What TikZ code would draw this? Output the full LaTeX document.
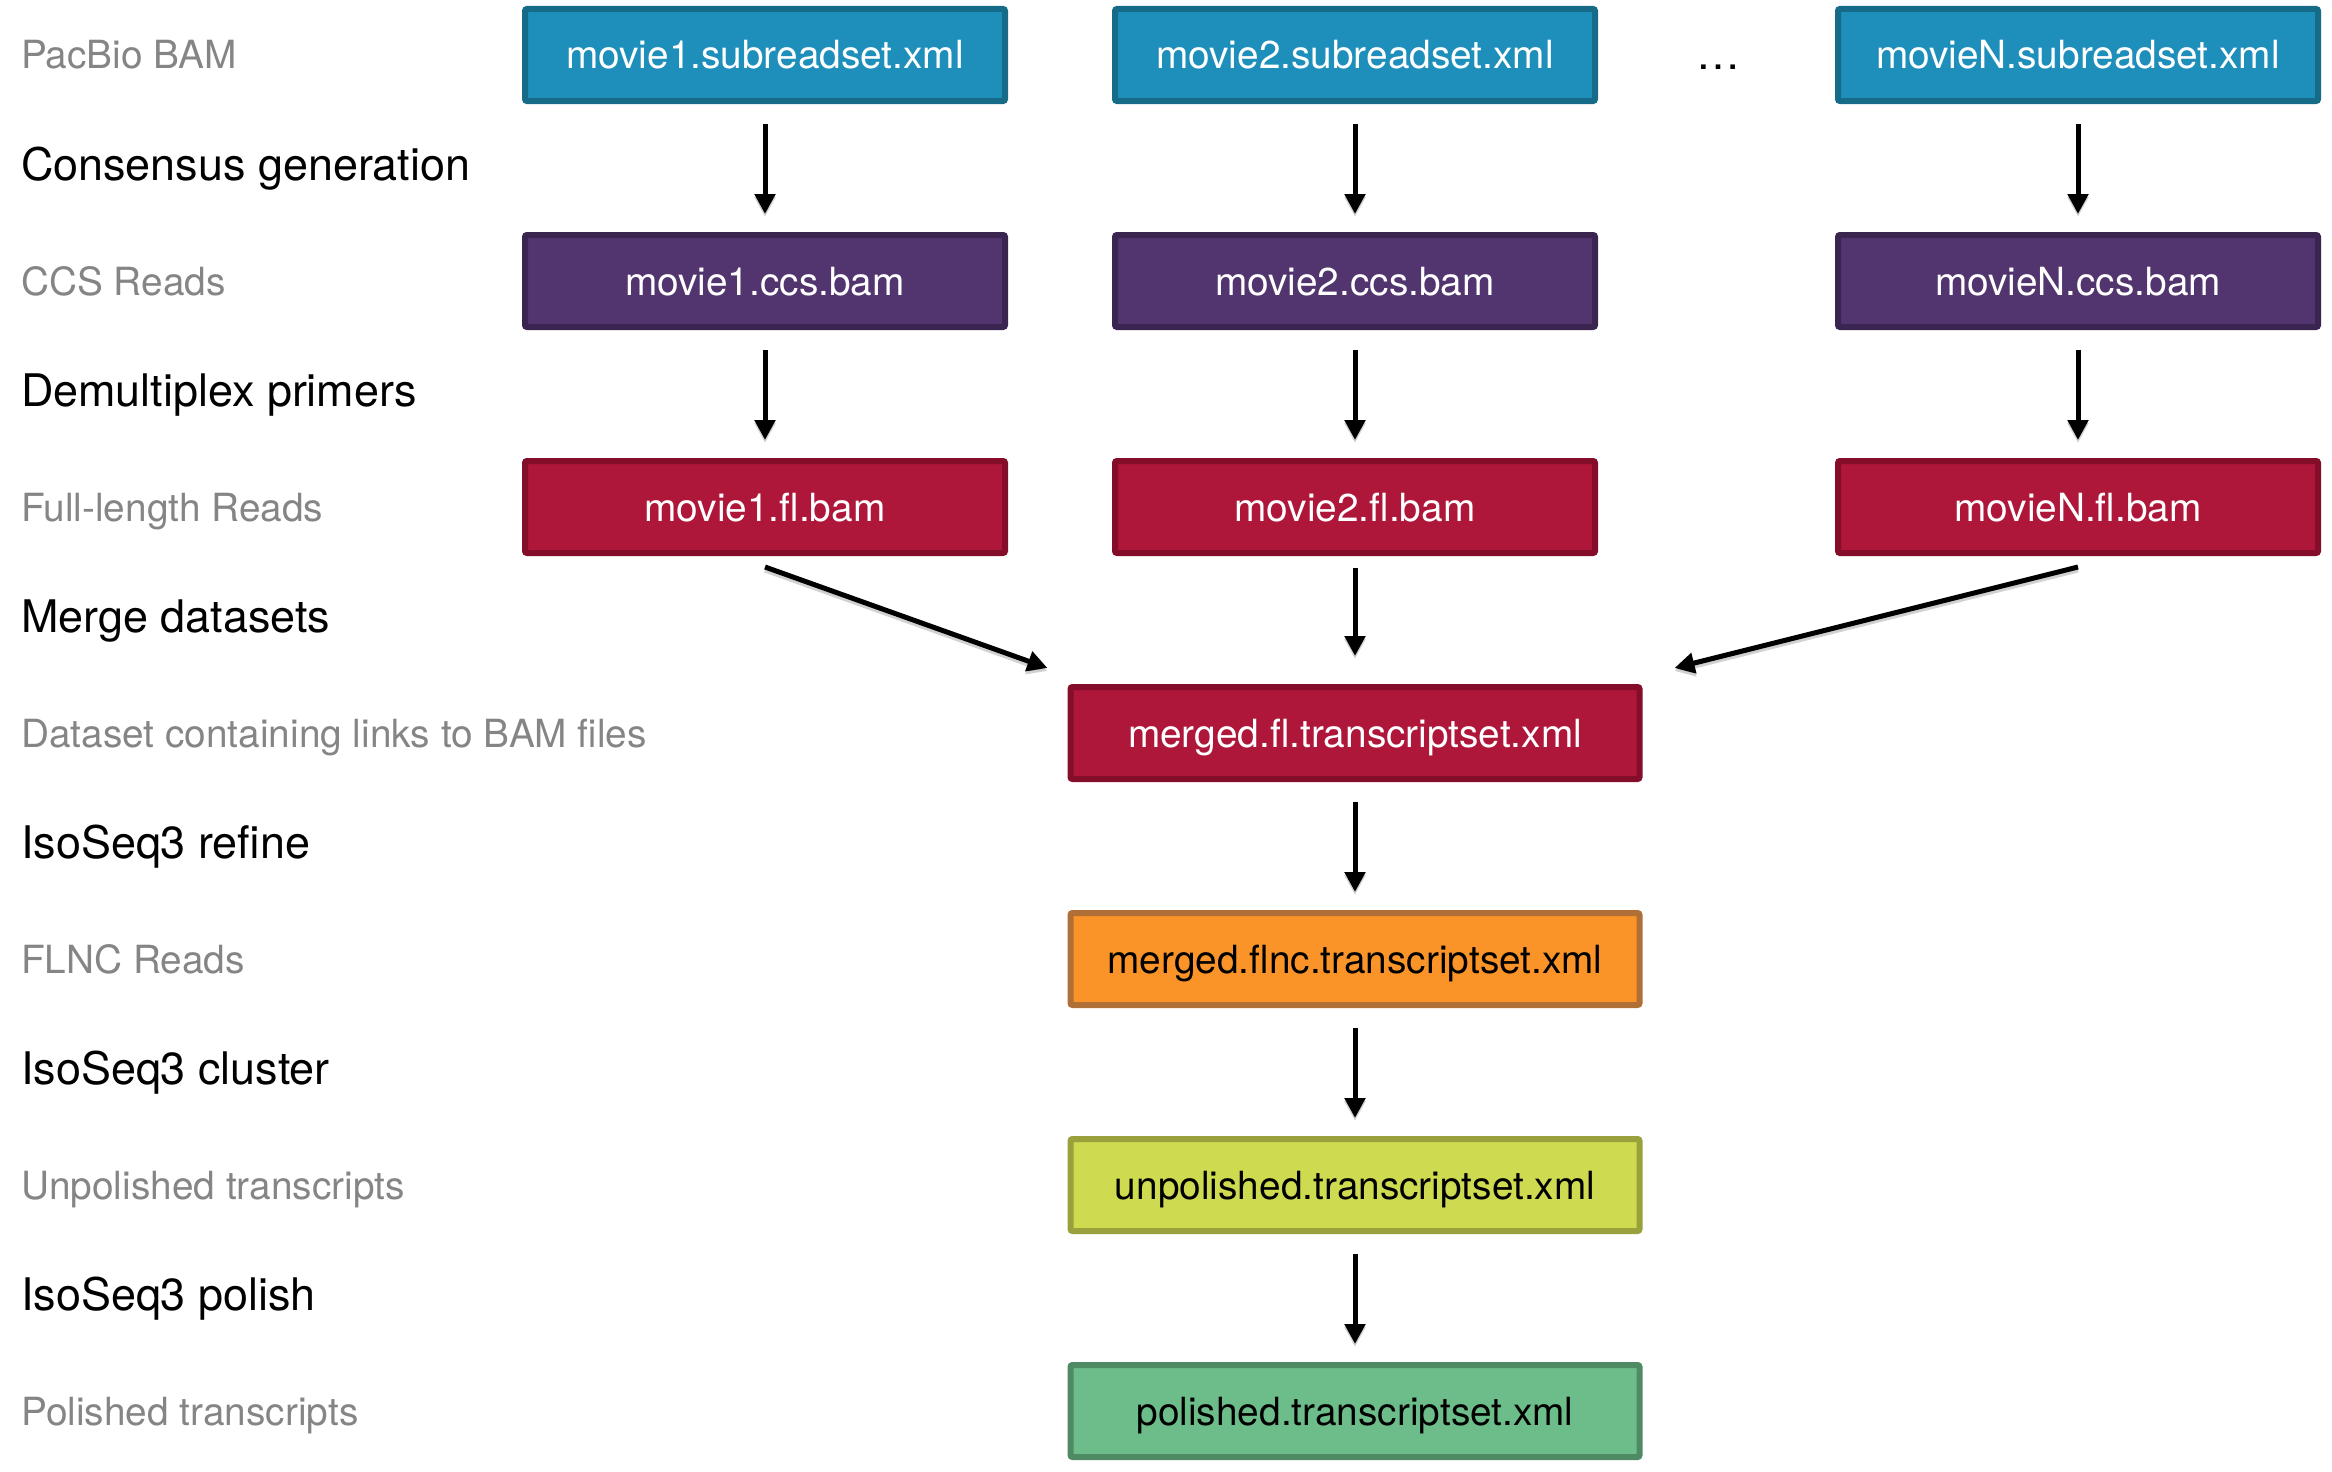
\documentclass[tikz,border=0pt]{standalone}
\usepackage{fontspec}
\setmainfont{TeX Gyre Heros}
\usetikzlibrary{arrows.meta}
\definecolor{blueF}{HTML}{1E8FBB}
\definecolor{blueD}{HTML}{156B88}
\definecolor{purpF}{HTML}{52356F}
\definecolor{purpD}{HTML}{3A2450}
\definecolor{redF}{HTML}{AE163A}
\definecolor{redD}{HTML}{840E2A}
\definecolor{orF}{HTML}{FA9429}
\definecolor{orD}{HTML}{B06F37}
\definecolor{ylF}{HTML}{CEDA4F}
\definecolor{ylD}{HTML}{98A13B}
\definecolor{grF}{HTML}{6CBD8A}
\definecolor{grD}{HTML}{4E8A63}
\definecolor{labgray}{HTML}{858585}
\tikzset{
  box/.style={draw, line width=6pt, rounded corners=2pt, minimum width=480pt,
    minimum height=92pt, inner sep=0pt, text height=28pt, text depth=0pt,
    font=\fontsize{38.8}{46}\selectfont},
  wide/.style={box, minimum width=569pt},
  bluebox/.style={box, fill=blueF, draw=blueD, text=white},
  purpbox/.style={box, fill=purpF, draw=purpD, text=white},
  redbox/.style={box, fill=redF, draw=redD, text=white},
  orbox/.style={wide, fill=orF, draw=orD, text=black},
  ylbox/.style={wide, fill=ylF, draw=ylD, text=black},
  grbox/.style={wide, fill=grF, draw=grD, text=black},
  graylab/.style={anchor=base west, text=labgray, inner sep=0pt,
    font=\fontsize{38.8}{46}\selectfont},
  steplab/.style={anchor=base west, text=black, inner sep=0pt,
    font=\fontsize{44.9}{54}\selectfont},
  arr/.style={line width=5pt, -{Triangle[length=20pt,width=20pt]}},
  arrshadow/.style={arr, draw=black, opacity=0.18, transform canvas={yshift=-3pt}},
}
\begin{document}
\begin{tikzpicture}[x=1pt,y=-1pt]
\useasboundingbox (0,0) rectangle (2332,1472);
% left labels
\node[graylab] (lPac) at (21,69) {PacBio BAM};
\node[steplab] (lCons) at (21,180.5) {Consensus generation};
\node[graylab] (lCCS) at (21,295) {CCS Reads};
\node[steplab] (lDemux) at (21,406.5) {Demultiplex primers};
\node[graylab] (lFL) at (21,521) {Full-length Reads};
\node[steplab] (lMerge) at (21,632.5) {Merge datasets};
\node[graylab] (lData) at (21,747) {Dataset containing links to BAM files};
\node[steplab] (lRefine) at (21,858.5) {IsoSeq3 refine};
\node[graylab] (lFLNC) at (21,973) {FLNC Reads};
\node[steplab] (lCluster) at (21,1084.5) {IsoSeq3 cluster};
\node[graylab] (lUnp) at (21,1199) {Unpolished transcripts};
\node[steplab] (lPolish) at (21,1310.5) {IsoSeq3 polish};
\node[graylab] (lPol) at (21,1425) {Polished transcripts};
% boxes
\node[bluebox] (s1) at (765,55) {movie1.subreadset.xml};
\node[bluebox] (s2) at (1355,55) {movie2.subreadset.xml};
\node[bluebox] (sN) at (2078,55) {movieN.subreadset.xml};
\node[anchor=base, inner sep=0pt, font=\fontsize{44}{50}\selectfont] (dots) at (1718,70) {…};
\node[purpbox] (c1) at (765,281) {movie1.ccs.bam};
\node[purpbox] (c2) at (1355,281) {movie2.ccs.bam};
\node[purpbox] (cN) at (2078,281) {movieN.ccs.bam};
\node[redbox] (f1) at (765,507) {movie1.fl.bam};
\node[redbox] (f2) at (1355,507) {movie2.fl.bam};
\node[redbox] (fN) at (2078,507) {movieN.fl.bam};
\node[redbox, minimum width=569pt] (mg) at (1355,733) {merged.fl.transcriptset.xml};
\node[orbox] (flnc) at (1355,959) {merged.flnc.transcriptset.xml};
\node[ylbox] (unp) at (1355,1185) {unpolished.transcriptset.xml};
\node[grbox] (pol) at (1355,1411) {polished.transcriptset.xml};
% connector end points
\coordinate (d1s) at ([yshift=-11pt]f1.south);
\coordinate (d1e) at ([xshift=-20pt,yshift=16pt]mg.north west);
\coordinate (dNs) at ([yshift=-11pt]fN.south);
\coordinate (dNe) at ([xshift=32pt,yshift=16pt]mg.north east);
% arrows (shadow then arrow)
\foreach \a/\b in {s1/c1,s2/c2,sN/cN,c1/f1,c2/f2,cN/fN,mg/flnc,flnc/unp,unp/pol}{
  \draw[arrshadow, shorten <=20pt, shorten >=18pt] (\a.south) -- (\b.north);
  \draw[arr, shorten <=20pt, shorten >=18pt] (\a.south) -- (\b.north);
}
\draw[arrshadow, shorten <=12pt, shorten >=28pt] (f2.south) -- (mg.north);
\draw[arr, shorten <=12pt, shorten >=28pt] (f2.south) -- (mg.north);
\draw[arrshadow] (d1s) -- (d1e);
\draw[arr] (d1s) -- (d1e);
\draw[arrshadow] (dNs) -- (dNe);
\draw[arr] (dNs) -- (dNe);
\end{tikzpicture}
\end{document}
